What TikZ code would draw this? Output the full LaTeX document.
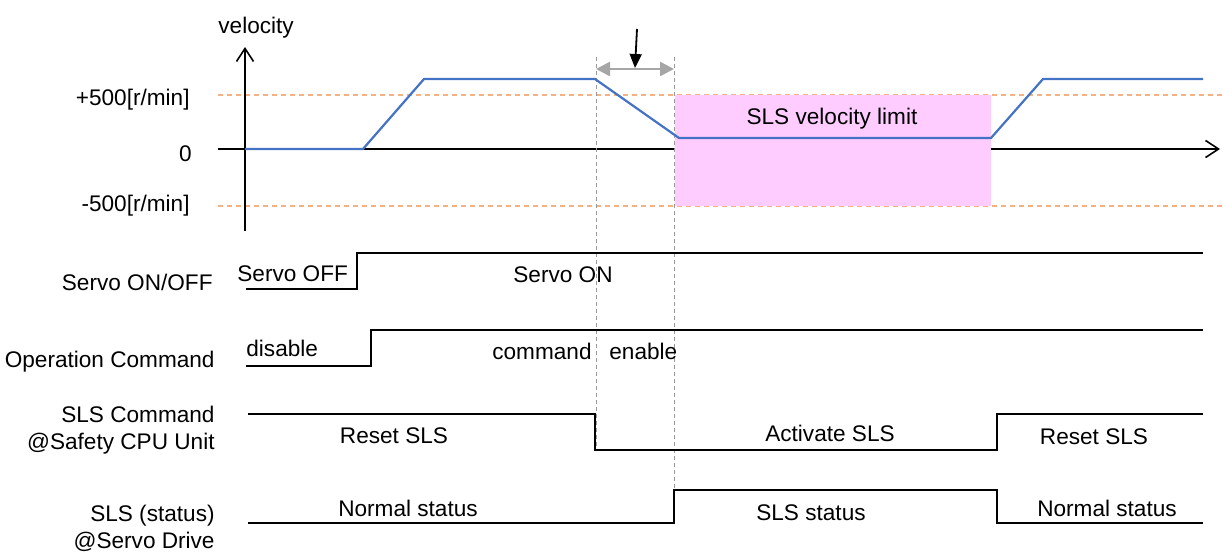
\documentclass[tikz,border=0pt]{standalone}
\usepackage{fontspec}
\setmainfont{Liberation Sans}
\usetikzlibrary{arrows.meta}
\definecolor{velblue}{HTML}{4472C4}
\definecolor{limpink}{HTML}{FFCCFF}
\definecolor{limorange}{HTML}{F4B183}

\begin{document}
\begin{tikzpicture}[x=0.5pt,y=-0.5pt,font=\fontsize{11.3}{13.5}\selectfont,
  sig/.style={line width=0.8pt},
  vel/.style={line width=1.1pt,velblue,line join=round},
  lim/.style={limorange,line width=0.6pt,dash pattern=on 2.5pt off 2pt},
  guide/.style={black!40,line width=0.35pt,dash pattern=on 2pt off 1.5pt},
  axis/.style={line width=0.8pt,-{Straight Barb[length=6.5pt,width=8.5pt]}},
  lbl/.style={anchor=east,align=right,inner sep=0pt},
  txt/.style={anchor=base,inner sep=0pt}]
\useasboundingbox (0,0) rectangle (1223,552);
% velocity graph
\draw[lim](218,95)--(1223,95);
\draw[lim](218,206)--(1223,206);
\draw[axis](218,149)--(1220,149);
\draw[axis](245,231)--(245,47);
\fill[limpink](675,95) rectangle (991,206);
\draw[guide](596,57)--(596,450);
\draw[guide](674,57)--(674,490);
\draw[vel](245,149)--(363,149)--(424,79)--(595,79)--(679,138)--(991,138)--(1043,79)--(1203,79);
\coordinate (t1) at (596,69);\coordinate (t2) at (674,69);
\draw[black!35,line width=1.3pt,{Triangle[length=7pt,width=7pt]}-{Triangle[length=7pt,width=7pt]}](t1)--(t2);
\coordinate (p) at (637,29);\coordinate (q) at (635,68);
\draw[line width=0.9pt,-{Triangle[length=7pt,width=6pt]}](p)--(q);
\node[txt,anchor=base west](vlab) at (218,33){velocity};
\node[txt,anchor=base east](vmax) at (190,105){+500[r/min]};
\node[txt,anchor=base east](vzero) at (192,161){0};
\node[txt,anchor=base east](vmin) at (190,211){-500[r/min]};
\node[txt](slslim) at (832,124){SLS velocity limit};
% signals
\draw[sig](246,289)-|(357,253)--(1203,253);
\draw[sig](246,366)-|(371,330)--(1203,330);
\draw[sig](248,414)-|(595,450)-|(997,414)--(1203,414);
\draw[sig](248,523)-|(674,490)-|(997,523)--(1203,523);
\node[lbl,anchor=base east](servo) at (213,290){Servo ON/OFF};
\node[lbl,anchor=base east](opcmd) at (215,367){Operation Command};
\node[lbl](slscmd) at (215,430){SLS Command\\@Safety CPU Unit};
\node[lbl](slsstat) at (215,528){SLS (status)\\@Servo Drive};
\node[txt,anchor=base west](off) at (237,281){Servo OFF};
\node[txt](on) at (563,282){Servo ON};
\node[txt,anchor=base west](dis) at (246,356){disable};
\node[txt,anchor=base east](cmd) at (592,359){command};
\node[txt,anchor=base west](en) at (609,359){enable};
\node[txt](rst1) at (394,443){Reset SLS};
\node[txt](act) at (830,441){Activate SLS};
\node[txt](rst2) at (1094,444){Reset SLS};
\node[txt](nrm1) at (408,516){Normal status};
\node[txt](slsst) at (811,520){SLS status};
\node[txt](nrm2) at (1107,516){Normal status};
\end{tikzpicture}
\end{document}
